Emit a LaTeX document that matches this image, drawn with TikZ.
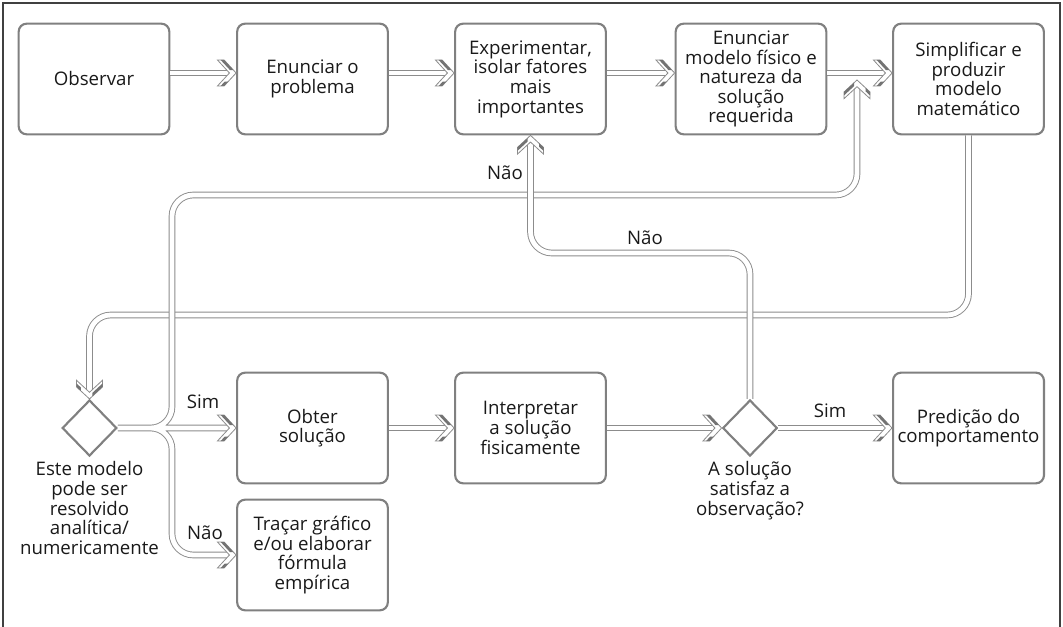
\documentclass[tikz,border=0pt]{standalone}
\usepackage{fontspec}
\setmainfont{Open Sans}
\usetikzlibrary{shapes.geometric}

\begin{document}
\begin{tikzpicture}[x=0.75pt,y=-0.75pt,
  txt/.style={font=\fontsize{14}{14.7}\selectfont,text=black!90,align=center},
  box/.style={txt,draw=black!50,line width=1.6pt,rounded corners=6pt,minimum width=113pt,minimum height=83pt},
  decide/.style={diamond,draw=black!50,line width=1.6pt,minimum width=41pt,minimum height=42pt,inner sep=0pt},
  chevron/.pic={
    \filldraw[fill=white,draw=black!45,line width=0.6pt,line join=miter]
      (0pt,0pt) -- (-9pt,9.75pt) -- (-14pt,9.75pt) -- (-5pt,0pt) -- (-14pt,-9.75pt) -- (-9pt,-9.75pt) -- cycle;
    \fill[black!55] (-2pt,2.2pt) -- (-9pt,9.75pt) -- (-11.6pt,9.75pt) -- (-4.6pt,2.2pt) -- cycle;
    \fill[black!55] (-6pt,-6.5pt) -- (-9pt,-9.75pt) -- (-11.6pt,-9.75pt) -- (-8.6pt,-6.5pt) -- cycle;
  },
  pipe/.style={draw=black!45,line width=0.7pt,double=white,double distance=3.6pt,rounded corners=16pt},
  flow/.style={pipe,shorten >=4pt}]
\useasboundingbox (0,0) rectangle (1063,627);
\draw[black!75,line width=1.1pt] (3,640) -- (3,3) -- (1060,3) -- (1060,640);

% top row
\node[box] (obs) at (94,79) {Observar};
\node[box] (prob) at (312.5,79) {Enunciar o\\problema};
\node[box] (exp) at (530.5,79) {Experimentar,\\isolar fatores\\mais\\importantes};
\node[box] (fis) at (751,79) {Enunciar\\modelo físico e\\natureza da\\solução\\requerida};
\node[box] (simp) at (968.5,79) {Simplificar e\\produzir\\modelo\\matemático};

% bottom row
\node[decide] (d1) at (89.5,428) {};
\node[box] (obter) at (312.5,428) {Obter\\solução};
\node[box] (interp) at (530.5,428) {Interpretar\\a solução\\fisicamente};
\node[decide] (d2) at (750,428) {};
\node[box] (pred) at (968.5,428) {Predição do\\comportamento};
\node[box] (trac) at (312.5,555) {Traçar gráfico\\e/ou elaborar\\fórmula\\empírica};

\node[txt,below] (q1) at (d1.south) {Este modelo\\pode ser\\resolvido\\analítica/\\numericamente};
\node[txt,below] (q2) at (d2.south) {A solução\\satisfaz a\\observação?};

\coordinate (merge) at (857,80);
\coordinate (loopA) at (172,195);
\coordinate (loopB) at (532,253);
\coordinate (loopC) at (968,315);

\draw[flow] ([yshift=4.5pt]obs.east) -- ([yshift=4.5pt]prob.west);
\pic at ([yshift=4.5pt]prob.west) {chevron};
\draw[flow] ([yshift=4.5pt]prob.east) -- ([yshift=4.5pt]exp.west);
\pic at ([yshift=4.5pt]exp.west) {chevron};
\draw[flow] ([yshift=4.5pt]exp.east) -- ([yshift=4.5pt]fis.west);
\pic at ([yshift=4.5pt]fis.west) {chevron};
\draw[flow] ([yshift=4.5pt]fis.east) -- ([yshift=4.5pt]simp.west);
\pic at ([yshift=4.5pt]simp.west) {chevron};

\draw[flow] (simp.south) |- (d1.north |- loopC) -- (d1.north);
\pic[rotate=-90] at (d1.north) {chevron};

% three ways out of the first test
\draw[pipe] (d1.east) -| (loopA) -| ([yshift=-4pt]merge)
  (d1.east) -- ([xshift=-4pt]obter.west)
  (d1.east) -| (loopA |- trac.west) -- ([xshift=-4pt]trac.west);
\pic[rotate=90] at (merge) {chevron};
\pic at (obter.west) {chevron};
\pic at (trac.west) {chevron};

\draw[flow] (obter.east) -- (interp.west);
\pic at (interp.west) {chevron};
\draw[flow] (interp.east) -- (d2.west);
\pic at (d2.west) {chevron};
\draw[flow] (d2.east) -- (pred.west);
\pic at (pred.west) {chevron};
\draw[flow] (d2.north) |- (exp.south |- loopB) -- (exp.south);
\pic[rotate=90] at (exp.south) {chevron};

\node[txt] (no1) at (505,173) {Não};
\node[txt] (no2) at (645,238) {Não};
\node[txt] (yes1) at (203,402) {Sim};
\node[txt] (no3) at (205,533) {Não};
\node[txt] (yes2) at (830,411) {Sim};
\end{tikzpicture}
\end{document}
